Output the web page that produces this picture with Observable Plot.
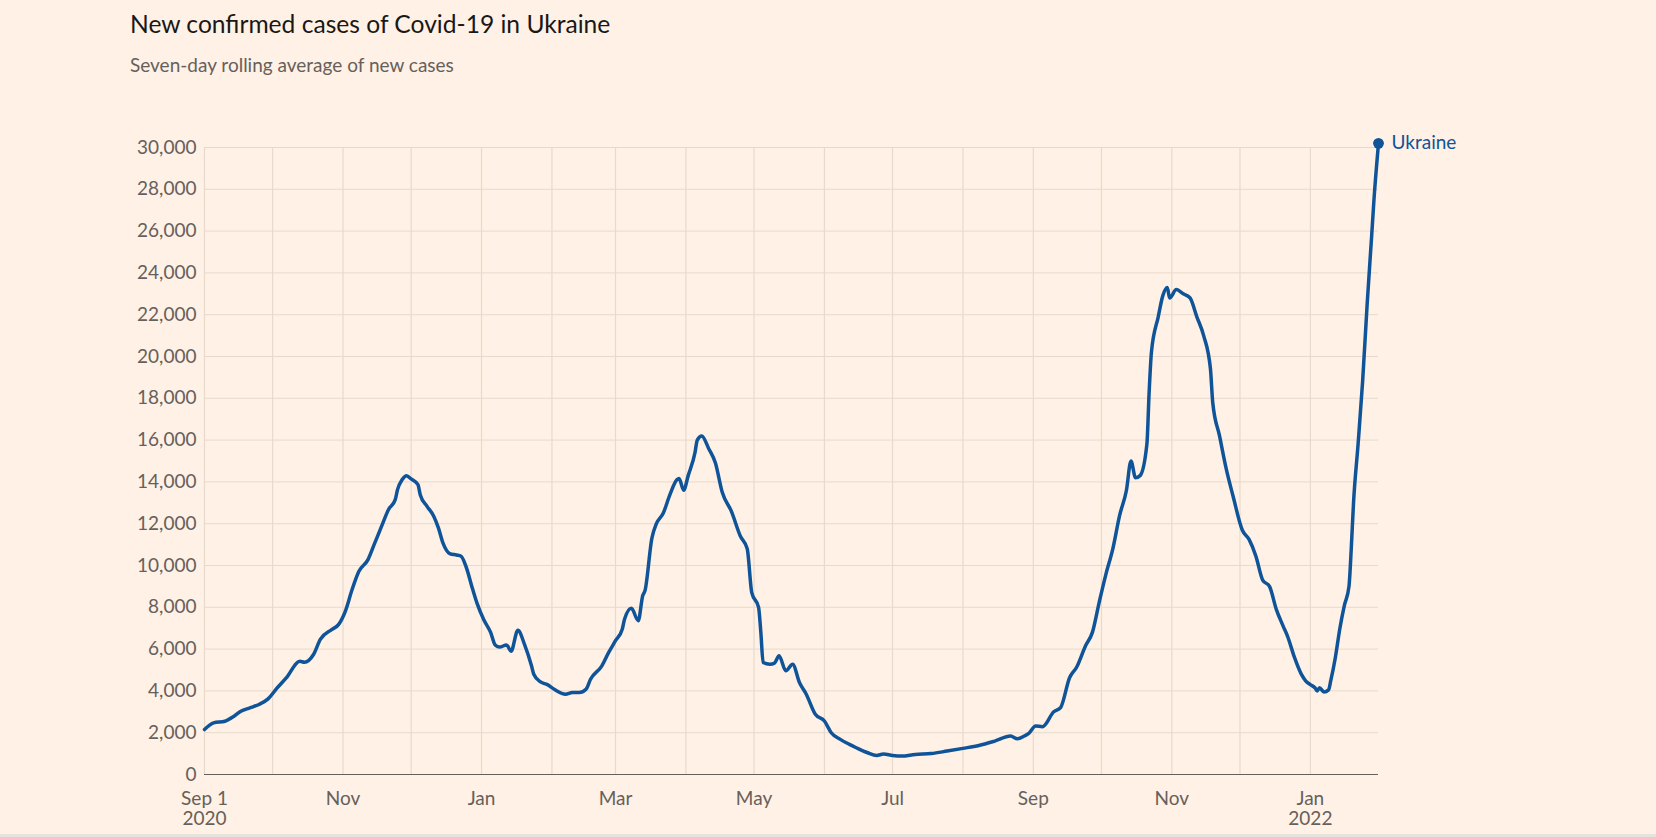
<!DOCTYPE html>
<html>
<head>
<meta charset="utf-8">
<script src="https://cdn.jsdelivr.net/npm/d3@7"></script>
<script src="https://cdn.jsdelivr.net/npm/@observablehq/plot@0.6"></script>
<style>
  html, body { margin: 0; padding: 0; background: #fff1e5; }
  #wrap { position: relative; width: 1656px; height: 837px; overflow: hidden; background: #fff1e5; font-family: Lato, "Open Sans", sans-serif; }
  #title { position: absolute; left: 130px; top: 11px; font-size: 24.6px; line-height: 25px; color: #1a1817; white-space: nowrap; }
  #subtitle { position: absolute; left: 130px; top: 55px; font-size: 19px; line-height: 19px; color: #66605c; white-space: nowrap; }
  #chart { position: absolute; left: 0; top: 100px; }
  #edge { position: absolute; left: 0; top: 834px; width: 1656px; height: 3px; background: #e6e2de; }
</style>
</head>
<body>
<div id="wrap">
  <div id="title">New confirmed cases of Covid-19 in Ukraine</div>
  <div id="subtitle">Seven-day rolling average of new cases</div>
  <div id="chart"></div>
  <div id="edge"></div>
</div>
<script>
const seriesName = "Ukraine";
const dates = [
  "2020-09-01","2020-09-05","2020-09-10","2020-09-14","2020-09-17","2020-09-21","2020-09-25","2020-09-29",
  "2020-10-03","2020-10-07","2020-10-13","2020-10-15","2020-10-19","2020-10-22","2020-10-27","2020-10-30",
  "2020-11-02","2020-11-05","2020-11-08","2020-11-12","2020-11-15","2020-11-18","2020-11-21","2020-11-24",
  "2020-11-25","2020-11-27","2020-11-29","2020-12-01","2020-12-04","2020-12-05","2020-12-08","2020-12-11",
  "2020-12-13","2020-12-15","2020-12-18","2020-12-21","2020-12-23","2020-12-25","2020-12-28","2020-12-30",
  "2021-01-02","2021-01-05","2021-01-07","2021-01-09","2021-01-12","2021-01-14","2021-01-17","2021-01-20",
  "2021-01-23","2021-01-24","2021-01-27","2021-01-30","2021-02-02","2021-02-07","2021-02-10","2021-02-13",
  "2021-02-16","2021-02-18","2021-02-23","2021-02-26","2021-03-01","2021-03-04","2021-03-05","2021-03-08",
  "2021-03-11","2021-03-13","2021-03-14","2021-03-17","2021-03-19","2021-03-22","2021-03-25","2021-03-28",
  "2021-03-29","2021-03-31","2021-04-02","2021-04-05","2021-04-06","2021-04-08","2021-04-11","2021-04-14",
  "2021-04-17","2021-04-21","2021-04-25","2021-04-28","2021-04-30","2021-05-03","2021-05-04","2021-05-05",
  "2021-05-08","2021-05-10","2021-05-12","2021-05-15","2021-05-18","2021-05-21","2021-05-24","2021-05-28",
  "2021-06-01","2021-06-04","2021-06-08","2021-06-12","2021-06-15","2021-06-20","2021-06-24","2021-06-27",
  "2021-07-01","2021-07-05","2021-07-11","2021-07-18","2021-07-25","2021-08-01","2021-08-08","2021-08-15",
  "2021-08-22","2021-08-25","2021-08-28","2021-08-30","2021-09-02","2021-09-05","2021-09-10","2021-09-13",
  "2021-09-17","2021-09-20","2021-09-24","2021-09-27","2021-09-30","2021-10-03","2021-10-06","2021-10-09",
  "2021-10-12","2021-10-14","2021-10-16","2021-10-18","2021-10-21","2021-10-22","2021-10-23","2021-10-26",
  "2021-10-28","2021-10-30","2021-10-31","2021-11-03","2021-11-06","2021-11-09","2021-11-12","2021-11-15",
  "2021-11-18","2021-11-19","2021-11-22","2021-11-25","2021-11-28","2021-12-02","2021-12-05","2021-12-08",
  "2021-12-11","2021-12-14","2021-12-17","2021-12-20","2021-12-22","2021-12-25","2021-12-28","2021-12-30",
  "2022-01-01","2022-01-03","2022-01-04","2022-01-05","2022-01-07","2022-01-09","2022-01-10","2022-01-12",
  "2022-01-14","2022-01-16","2022-01-18","2022-01-19","2022-01-20","2022-01-22","2022-01-24","2022-01-26",
  "2022-01-28","2022-01-29","2022-01-31"
];
const cases = [
  2150,2470,2550,2790,3030,3190,3350,3620,
  4140,4620,5420,5370,5740,6460,6930,7170,
  7810,8850,9720,10280,11080,11880,12670,13150,
  13630,14100,14300,14140,13870,13390,12830,12350,
  11800,11080,10570,10500,10440,10000,8900,8200,
  7400,6800,6200,6100,6200,5900,6900,6200,
  5200,4800,4430,4300,4080,3840,3920,3920,
  4080,4560,5200,5840,6400,6960,7440,7950,
  7360,8560,8800,11300,12000,12500,13400,14100,
  14160,13600,14300,15400,16000,16200,15600,14900,
  13500,12600,11400,10800,8700,8000,6800,5360,
  5280,5330,5680,4960,5280,4400,3840,2880,
  2560,2000,1680,1440,1280,1040,910,980,
  910,880,960,1000,1120,1250,1390,1600,
  1840,1710,1840,1970,2320,2290,3000,3200,
  4640,5120,6160,6800,8240,9600,10800,12400,
  13600,15000,14200,14300,15800,18300,20200,21900,
  22900,23300,22800,23200,23000,22800,21900,21000,
  19400,17800,16200,14600,13300,11700,11250,10450,
  9300,9000,7900,7100,6600,5600,4800,4470,
  4300,4150,4000,4150,3950,4050,4500,5600,
  7000,8100,9000,10800,13000,15800,18800,22500,
  25800,27500,30200
];
const yTicks = [0,2000,4000,6000,8000,10000,12000,14000,16000,18000,20000,22000,24000,26000,28000,30000];
const xTickDates = ["2020-09-01","2020-11-01","2021-01-01","2021-03-01","2021-05-01","2021-07-01","2021-09-01","2021-11-01","2022-01-01"];
const xTickLabels = ["Sep 1\n2020","Nov","Jan","Mar","May","Jul","Sep","Nov","Jan\n2022"];
const xStart = "2020-09-01";
const xEnd = "2022-01-31";

const data = dates.map((d, i) => ({date: new Date(d), value: cases[i]}));
const last = data[data.length - 1];
const tickDates = xTickDates.map(d => new Date(d));
const labelMap = new Map(tickDates.map((d, i) => [+d, xTickLabels[i]]));
const monthGrid = d3.utcMonth.range(new Date(xStart), new Date(xEnd));

const BLUE = "#0f5499";
const GRID = "#e7dacd";
const TEXT = "#66605c";

const chart = Plot.plot({
  width: 1656,
  height: 737,
  marginTop: 47,
  marginBottom: 63,
  marginLeft: 204,
  marginRight: 278,
  style: {background: "transparent", fontFamily: "Lato, 'Open Sans', sans-serif", fontSize: "19px", color: TEXT, overflow: "visible"},
  x: {type: "utc", domain: [new Date(xStart), new Date(xEnd)]},
  y: {domain: [0, 30000]},
  marks: [
    Plot.gridX({ticks: monthGrid, stroke: GRID, strokeOpacity: 1, strokeWidth: 1.2}),
    Plot.gridY({ticks: yTicks, stroke: GRID, strokeOpacity: 1, strokeWidth: 1}),
    Plot.axisY({ticks: yTicks, tickSize: 0, tickPadding: 8, tickFormat: d3.format(","), label: null, fontSize: 19}),
    Plot.axisX({ticks: tickDates, tickSize: 0, tickPadding: 16, tickFormat: d => labelMap.get(+d), lineHeight: 1.05, label: null, fontSize: 19}),
    Plot.ruleY([0], {stroke: TEXT, strokeWidth: 1.2}),
    Plot.line(data, {x: "date", y: "value", stroke: BLUE, strokeWidth: 3.5, curve: "monotone-x", strokeLinejoin: "round", strokeLinecap: "round"}),
    Plot.dot([last], {x: "date", y: "value", r: 5.4, fill: BLUE, stroke: "none"}),
    Plot.text([last], {x: "date", y: "value", text: () => seriesName, dx: 13, textAnchor: "start", fill: BLUE, fontSize: 19})
  ]
});
document.getElementById("chart").appendChild(chart);
</script>
</body>
</html>
